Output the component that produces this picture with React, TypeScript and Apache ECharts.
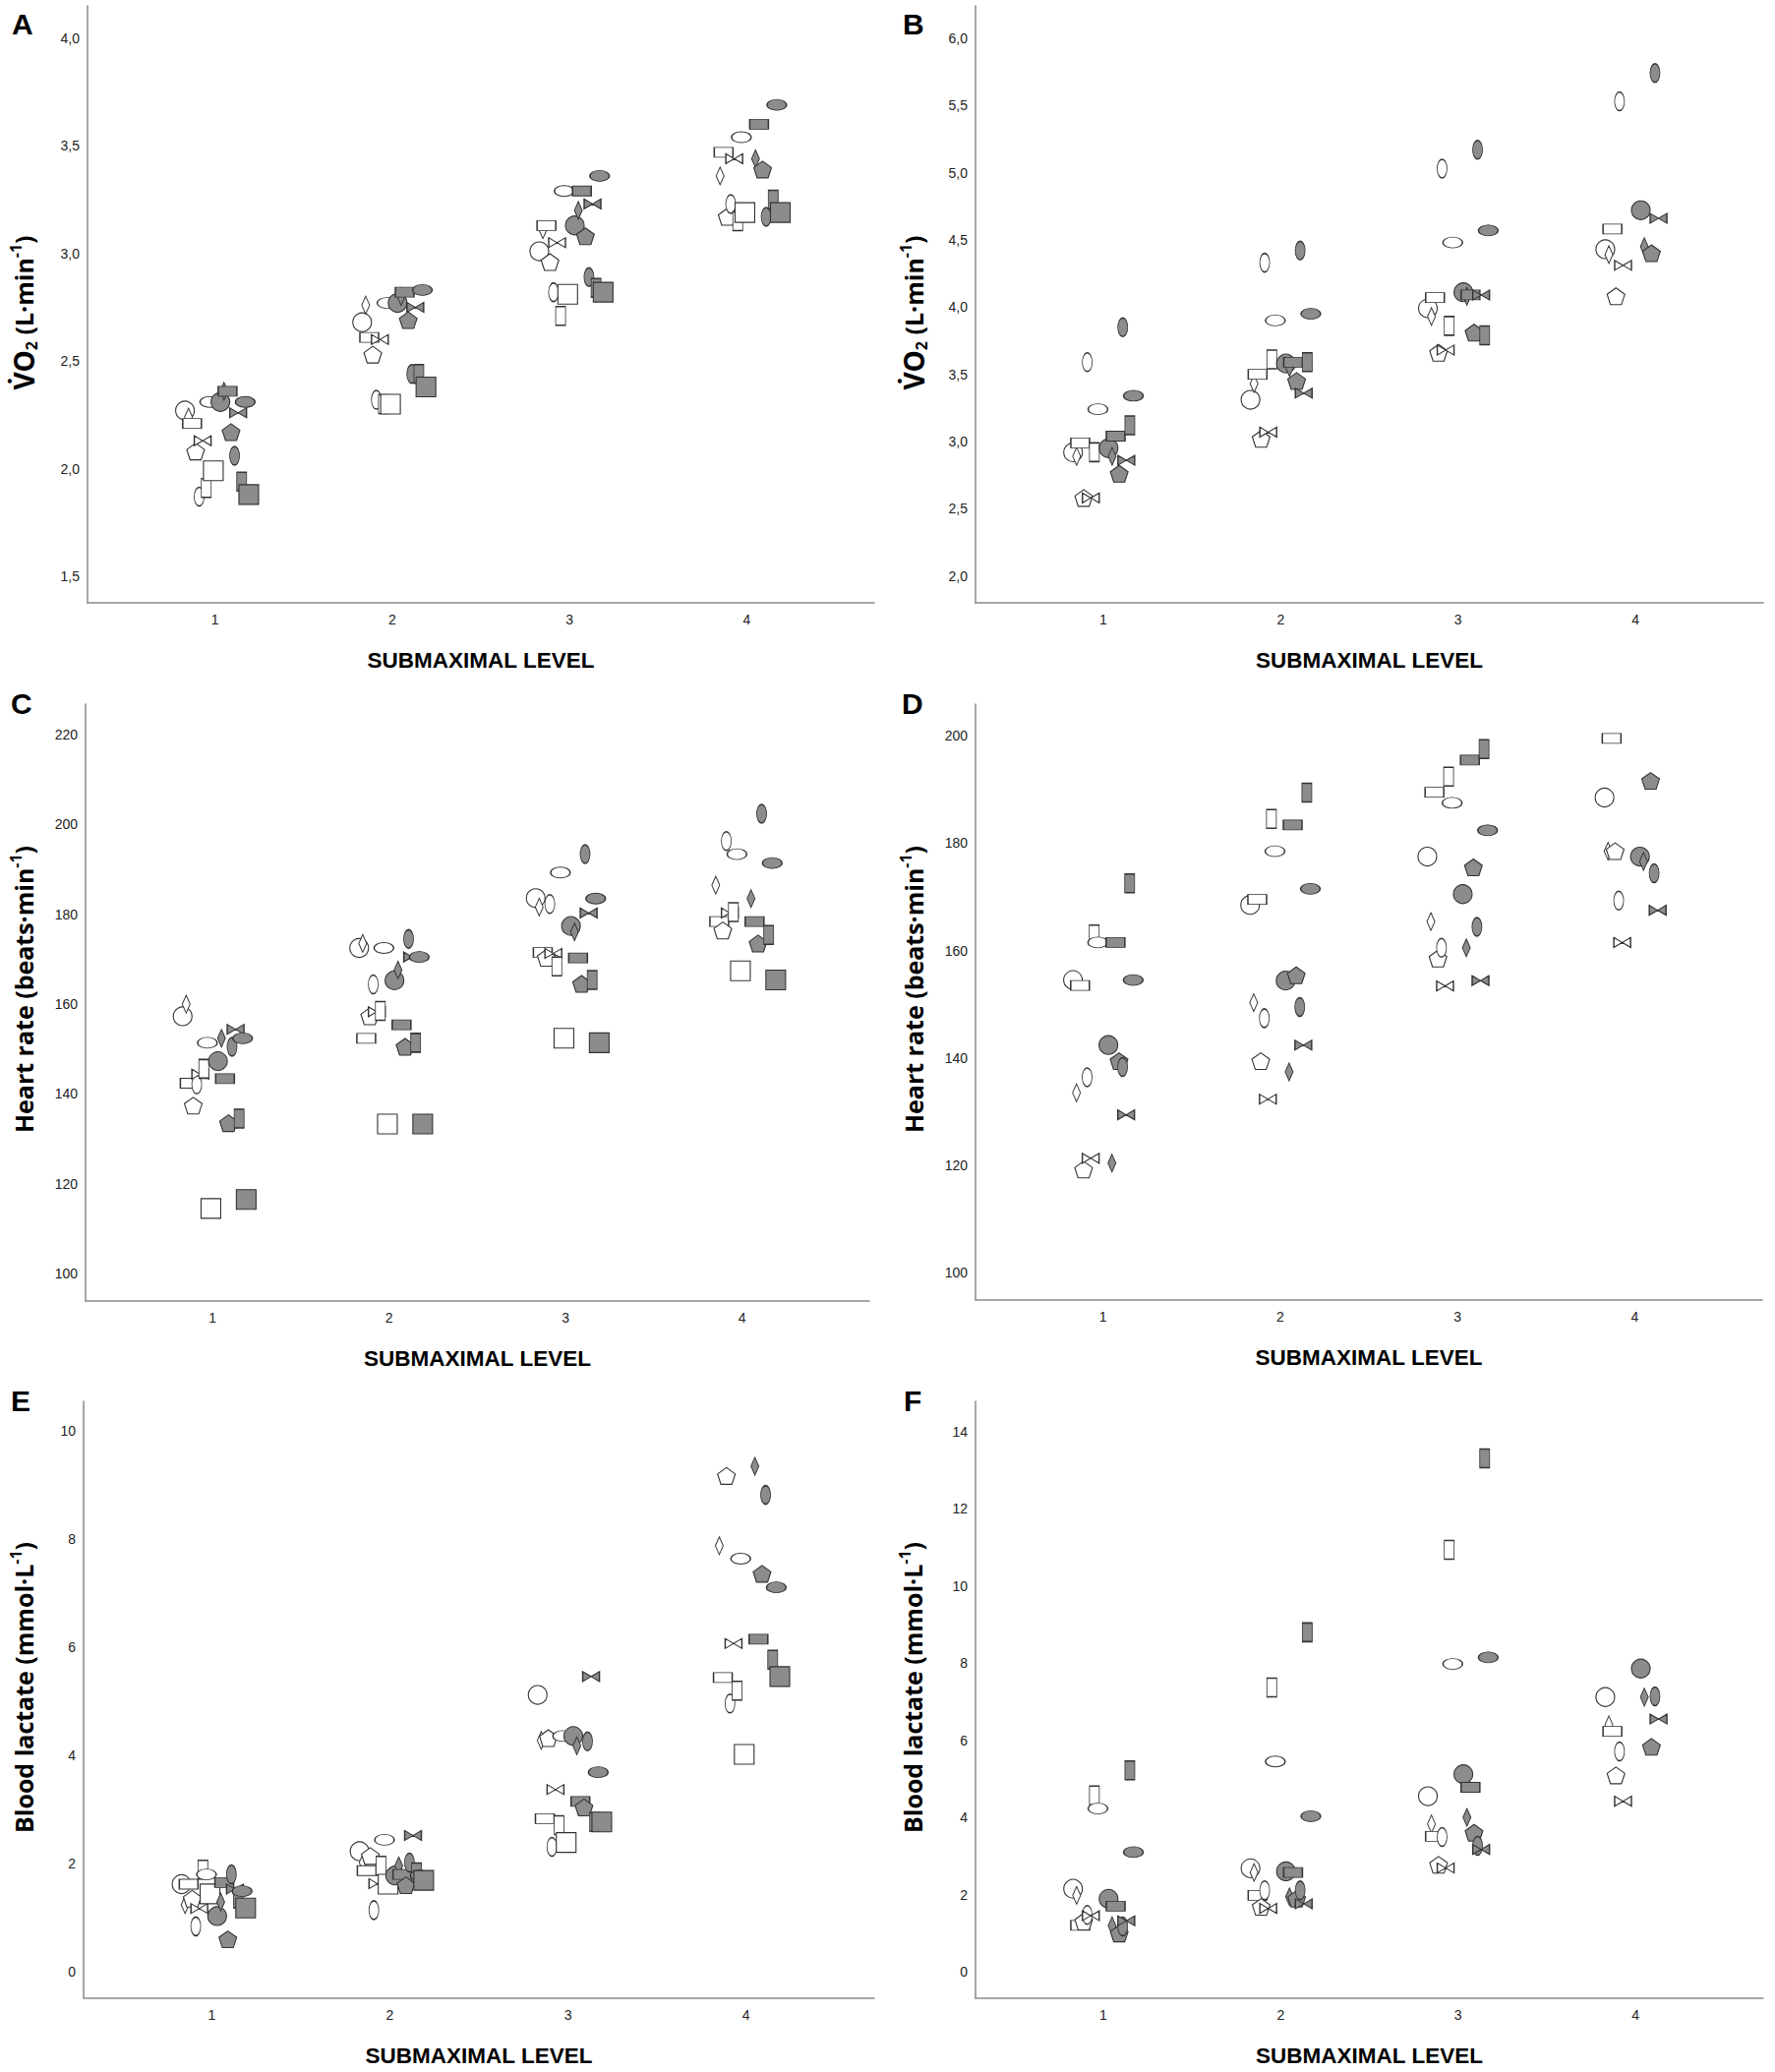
import React, { useEffect, useRef } from "react";
import * as echarts from "echarts";

// ---------- data ----------
const LEVELS = [1, 2, 3, 4];
const X_TICKS = [1, 2, 3, 4];
const SHAPES = ["circle", "diamond", "hrect", "pentagon", "vellipse", "bowtie", "vrect", "hellipse", "square"];
const OPEN_JITTER = [-0.17, -0.15, -0.13, -0.11, -0.09, -0.07, -0.05, -0.03, -0.01];
const FILLED_JITTER = [0.03, 0.05, 0.07, 0.09, 0.11, 0.13, 0.15, 0.17, 0.19];

type Row = (number | null)[];
const N: null = null;

// Panel A: VO2 (L·min-1)
const A_OPEN: Row[] = [
  [2.27, 2.68, 3.01, N],
  [2.24, 2.76, 3.11, 3.36],
  [2.21, 2.61, 3.13, 3.47],
  [2.08, 2.53, 2.96, 3.17],
  [1.87, 2.32, 2.82, 3.23],
  [2.13, 2.6, 3.05, 3.44],
  [1.91, 2.3, 2.71, 3.15],
  [2.31, 2.77, 3.29, 3.54],
  [1.99, 2.3, 2.81, 3.19],
];
const A_FILLED: Row[] = [
  [2.31, 2.77, 3.13, N],
  [2.36, 2.8, 3.2, 3.44],
  [2.36, 2.82, 3.29, 3.6],
  [2.17, 2.69, 3.08, 3.39],
  [2.06, 2.44, 2.89, 3.17],
  [2.26, 2.75, 3.23, N],
  [1.94, 2.44, 2.84, 3.25],
  [2.31, 2.83, 3.36, 3.69],
  [1.88, 2.38, 2.82, 3.19],
];
// Panel B: VO2 (L·min-1)
const B_OPEN: Row[] = [
  [2.92, 3.31, 3.99, 4.43],
  [2.89, 3.43, 3.93, 4.39],
  [2.99, 3.5, 4.07, 4.58],
  [2.58, 3.02, 3.66, 4.08],
  [3.59, 4.33, 5.03, 5.53],
  [2.58, 3.07, 3.68, 4.31],
  [2.92, 3.61, 3.86, N],
  [3.24, 3.9, 4.48, N],
  [N, N, N, N],
];
const B_FILLED: Row[] = [
  [2.95, 3.58, 4.11, 4.72],
  [2.89, 3.55, 4.08, 4.45],
  [3.04, 3.59, 4.09, N],
  [2.76, 3.45, 3.81, 4.4],
  [3.85, 4.42, 5.17, 5.74],
  [2.86, 3.36, 4.09, 4.66],
  [3.12, 3.59, 3.79, N],
  [3.34, 3.95, 4.57, N],
  [N, N, N, N],
];
// Panel C: heart rate
const C_OPEN: Row[] = [
  [157.3, 172.5, 183.6, N],
  [160, 173.5, 181.6, 186.5],
  [142.4, 152.4, 171.5, 178.4],
  [137.4, 157.3, 170.3, 176.4],
  [142.1, 164.4, 182.3, 196.3],
  [144.4, 158.3, 171.3, 180.3],
  [145.6, 158.5, 168.4, 180.5],
  [151.4, 172.5, 189.3, 193.4],
  [114.5, 133.3, 152.4, 167.4],
];
const C_FILLED: Row[] = [
  [147.3, 165.3, 177.4, N],
  [152.4, 167.6, 176.1, 183.5],
  [143.4, 155.4, 170.3, 178.4],
  [133.5, 150.5, 164.5, 173.5],
  [150.5, 174.5, 193.4, 202.4],
  [154.4, 170.5, 180.3, N],
  [134.5, 151.4, 165.4, 175.4],
  [152.4, 170.5, 183.5, 191.4],
  [116.5, 133.3, 151.4, 165.4],
];
// Panel D: heart rate
const D_OPEN: Row[] = [
  [154.5, 168.5, 177.5, 188.5],
  [133.5, 150.3, 165.4, 178.5],
  [153.5, 169.5, 189.5, 199.5],
  [119.2, 139.4, 158.5, 178.5],
  [136.4, 147.4, 160.5, 169.3],
  [121.3, 132.3, 153.4, 161.5],
  [163, 184.5, 192.4, N],
  [161.5, 178.5, 187.5, N],
  [N, N, N, N],
];
const D_FILLED: Row[] = [
  [142.4, 154.4, 170.5, 177.5],
  [120.4, 137.4, 160.5, 176.6],
  [161.5, 183.4, 195.5, N],
  [139.4, 155.4, 175.5, 191.6],
  [138.3, 149.5, 164.4, 174.4],
  [129.4, 142.4, 154.4, 167.5],
  [172.5, 189.4, 197.5, N],
  [154.5, 171.5, 182.4, N],
  [N, N, N, N],
];
// Panel E: blood lactate
const E_OPEN: Row[] = [
  [1.62, 2.23, 5.12, N],
  [1.24, 2.02, 4.28, 7.88],
  [1.62, 1.87, 2.83, 5.44],
  [1.35, 2.14, 4.32, 9.17],
  [0.84, 1.14, 2.31, 4.96],
  [1.17, 1.63, 3.37, 6.07],
  [1.89, 1.96, 2.71, 5.2],
  [1.8, 2.44, 4.36, 7.64],
  [1.44, 1.62, 2.39, 4.02],
];
const E_FILLED: Row[] = [
  [1.03, 1.78, 4.36, N],
  [1.29, 1.96, 4.18, 9.35],
  [1.65, 1.8, 3.15, 6.15],
  [0.6, 1.6, 3.04, 7.36],
  [1.8, 2.02, 4.26, 8.82],
  [1.53, 2.52, 5.46, N],
  [1.35, 1.84, 2.77, 5.77],
  [1.49, 1.78, 3.69, 7.11],
  [1.18, 1.69, 2.77, 5.46],
];
// Panel F: blood lactate
const F_OPEN: Row[] = [
  [2.15, 2.68, 4.55, 7.12],
  [1.98, 2.57, 3.83, 6.4],
  [1.2, 1.98, 3.51, 6.23],
  [1.3, 1.68, 2.77, 5.09],
  [1.47, 2.11, 3.49, 5.71],
  [1.45, 1.64, 2.69, 4.42],
  [4.57, 7.37, 10.94, N],
  [4.23, 5.45, 7.98, N],
  [N, N, N, N],
];
const F_FILLED: Row[] = [
  [1.89, 2.6, 5.12, 7.86],
  [1.19, 1.94, 4.0, 7.12],
  [1.7, 2.57, 4.78, N],
  [0.99, 1.89, 3.6, 5.83],
  [1.17, 2.11, 3.26, 7.14],
  [1.32, 1.76, 3.17, 6.55],
  [5.22, 8.8, 13.31, N],
  [3.1, 4.03, 8.15, N],
  [N, N, N, N],
];

const A_TICKS = [1.5, 2.0, 2.5, 3.0, 3.5, 4.0];
const B_TICKS = [2.0, 2.5, 3.0, 3.5, 4.0, 4.5, 5.0, 5.5, 6.0];
const C_TICKS = [100, 120, 140, 160, 180, 200, 220];
const D_TICKS = [100, 120, 140, 160, 180, 200];
const E_TICKS = [0, 2, 4, 6, 8, 10];
const F_TICKS = [0, 2, 4, 6, 8, 10, 12, 14];

const PANEL_LETTERS = ["A", "B", "C", "D", "E", "F"];
const X_TITLE = "SUBMAXIMAL LEVEL";

// ---------- styling / layout ----------
const ELLIPSE = "path://M0,-1C0.552,-1,1,-0.552,1,0C1,0.552,0.552,1,0,1C-0.552,1,-1,0.552,-1,0C-1,-0.552,-0.552,-1,0,-1Z";
const PENTAGON = "path://M0,-1L0.951,-0.309L0.588,0.809L-0.588,0.809L-0.951,-0.309Z";
const BOWTIE = "path://M-1,-1L0,0L-1,1ZM1,-1L0,0L1,1Z";

const SYMBOLS: Record<string, { symbol: string; size: number[] }> = {
  circle: { symbol: "circle", size: [19, 19] },
  diamond: { symbol: "diamond", size: [8, 18] },
  hrect: { symbol: "rect", size: [19, 10] },
  pentagon: { symbol: PENTAGON, size: [18, 17] },
  vellipse: { symbol: ELLIPSE, size: [10, 19] },
  bowtie: { symbol: BOWTIE, size: [17, 10] },
  vrect: { symbol: "rect", size: [10, 19] },
  hellipse: { symbol: ELLIPSE, size: [20, 11] },
  square: { symbol: "rect", size: [20, 20] },
};

const OPEN_FILL = "#ffffff";
const FILLED_FILL = "#8c8c8c";
const STROKE = "#333333";

const PANELS = [
  { open: A_OPEN, filled: A_FILLED, ticks: A_TICKS, min: 1.377, max: 4.15, dec: true, left: 89, top: 6, width: 800, height: 607, kind: "vo2" },
  { open: B_OPEN, filled: B_FILLED, ticks: B_TICKS, min: 1.8, max: 6.24, dec: true, left: 992, top: 6, width: 801, height: 607, kind: "vo2" },
  { open: C_OPEN, filled: C_FILLED, ticks: C_TICKS, min: 93.9, max: 226.8, dec: false, left: 87, top: 716, width: 797, height: 607, kind: "hr" },
  { open: D_OPEN, filled: D_FILLED, ticks: D_TICKS, min: 94.9, max: 205.9, dec: false, left: 992, top: 716, width: 800, height: 606, kind: "hr" },
  { open: E_OPEN, filled: E_FILLED, ticks: E_TICKS, min: -0.49, max: 10.55, dec: false, left: 85, top: 1425, width: 804, height: 607, kind: "la" },
  { open: F_OPEN, filled: F_FILLED, ticks: F_TICKS, min: -0.69, max: 14.79, dec: false, left: 992, top: 1425, width: 801, height: 607, kind: "la" },
];

const LETTER_POS = [
  [12, 24], [918, 24], [11, 715], [917, 715], [11, 1424], [919, 1424],
];
const YTITLE_POS = [
  [24, 318], [929, 318], [24, 1006], [929, 1006], [24, 1716], [928, 1716],
];

const TITLE_FONT = "Open Sans";
const richBase = {
  m: { fontSize: 25, fontWeight: "bold", fontFamily: TITLE_FONT, color: "#000", lineHeight: 36, verticalAlign: "middle" },
  big: { fontSize: 28, fontWeight: "bold", fontFamily: TITLE_FONT, color: "#000", lineHeight: 36, verticalAlign: "middle" },
  s: { fontSize: 16, fontWeight: "bold", fontFamily: TITLE_FONT, color: "#000", lineHeight: 36, verticalAlign: "bottom", padding: [0, 0, 2, 0] },
  u: { fontSize: 16, fontWeight: "bold", fontFamily: TITLE_FONT, color: "#000", lineHeight: 36, verticalAlign: "top", padding: [2, 0, 0, 0] },
};
const Y_TITLES: Record<string, string> = {
  vo2: "{big|V\u0307O}{s|2}{m| (L\u00b7min}{u|-1}{m|)}",
  hr: "{m|Heart rate (beats\u00b7min}{u|-1}{m|)}",
  la: "{m|Blood lactate (mmol\u00b7L}{u|-1}{m|)}",
};

function buildOption() {
  const grid: any[] = [];
  const xAxis: any[] = [];
  const yAxis: any[] = [];
  const series: any[] = [];
  const graphic: any[] = [];

  PANELS.forEach((p, gi) => {
    grid.push({ left: p.left, top: p.top, width: p.width, height: p.height, containLabel: false });
    xAxis.push({
      gridIndex: gi,
      type: "value",
      min: 0.28,
      max: 4.72,
      axisLine: { show: true, onZero: false, lineStyle: { color: "#8a8a8a", width: 1.5 } },
      axisTick: { show: false },
      splitLine: { show: false },
      axisLabel: {
        customValues: X_TICKS,
        margin: 10,
        fontSize: 14,
        color: "#222",
        fontFamily: "Liberation Sans",
        formatter: (v: number) => String(v),
      },
      name: X_TITLE,
      nameLocation: "middle",
      nameGap: 47,
      nameTextStyle: { fontSize: 22.5, fontWeight: "bold", color: "#000", fontFamily: "Liberation Sans" },
    });
    yAxis.push({
      gridIndex: gi,
      type: "value",
      min: p.min,
      max: p.max,
      axisLine: { show: true, onZero: false, lineStyle: { color: "#8a8a8a", width: 1.5 } },
      axisTick: { show: false },
      splitLine: { show: false },
      axisLabel: {
        customValues: p.ticks,
        margin: 8,
        fontSize: 14,
        color: "#222",
        fontFamily: "Liberation Sans",
        formatter: (v: number) => (p.dec ? v.toFixed(1).replace(".", ",") : String(Math.round(v))),
      },
    });

    const groups = [
      { rows: p.open, jit: OPEN_JITTER, fill: OPEN_FILL, tag: "open" },
      { rows: p.filled, jit: FILLED_JITTER, fill: FILLED_FILL, tag: "filled" },
    ];
    groups.forEach((g) => {
      g.rows.forEach((row, si) => {
        const shape = SHAPES[si];
        const sym = SYMBOLS[shape];
        const data = row
          .map((v, k) => (v == null ? null : [LEVELS[k] + g.jit[si], v]))
          .filter((d) => d !== null);
        if (!data.length) return;
        series.push({
          type: "scatter",
          name: `${PANEL_LETTERS[gi]}-${g.tag}-${shape}`,
          xAxisIndex: gi,
          yAxisIndex: gi,
          symbol: sym.symbol,
          symbolSize: sym.size,
          itemStyle: { color: g.fill, borderColor: STROKE, borderWidth: 1.1, opacity: 1 },
          emphasis: { disabled: true },
          silent: true,
          data,
        });
      });
    });

    graphic.push({
      type: "text",
      x: LETTER_POS[gi][0],
      y: LETTER_POS[gi][1],
      style: {
        text: PANEL_LETTERS[gi],
        font: "bold 30px 'Liberation Sans'",
        fill: "#000",
        textAlign: "left",
        textVerticalAlign: "middle",
      },
    });
    graphic.push({
      type: "text",
      x: YTITLE_POS[gi][0],
      y: YTITLE_POS[gi][1],
      rotation: Math.PI / 2,
      style: {
        text: Y_TITLES[p.kind],
        rich: richBase,
        textAlign: "center",
        textVerticalAlign: "middle",
      },
    });
  });

  return {
    animation: false,
    backgroundColor: "#ffffff",
    grid,
    xAxis,
    yAxis,
    series,
    graphic,
  };
}

export default function App() {
  const ref = useRef<HTMLDivElement>(null);
  useEffect(() => {
    if (!ref.current) return;
    const chart = echarts.init(ref.current, undefined, { renderer: "svg" });
    chart.setOption(buildOption() as any);
    return () => chart.dispose();
  }, []);
  return (
    <div
      ref={ref}
      style={{ position: "absolute", left: 0, top: 0, width: 1805, height: 2107, background: "#fff" }}
    />
  );
}
